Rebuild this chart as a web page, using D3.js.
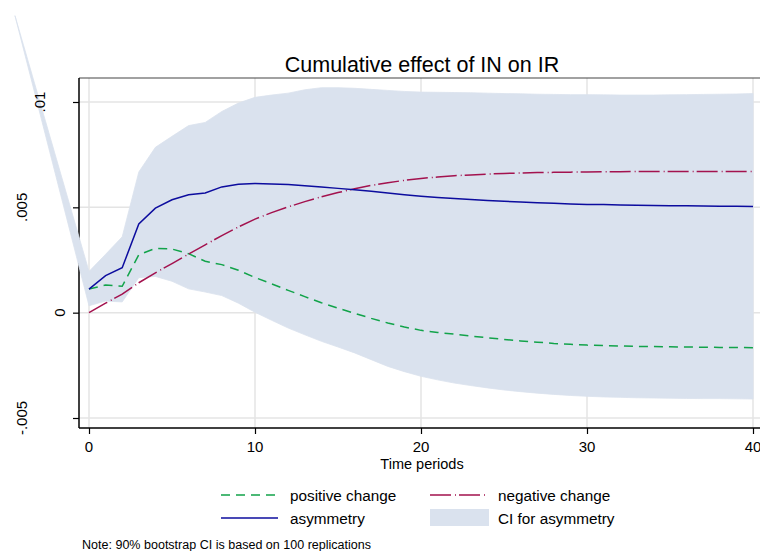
<!DOCTYPE html>
<html>
<head>
<meta charset="utf-8">
<script src="https://cdnjs.cloudflare.com/ajax/libs/d3/7.8.5/d3.min.js"></script>
<style>
  html, body { margin: 0; padding: 0; background: #fff; }
  svg { display: block; font-family: "Liberation Sans", Arial, sans-serif; }
</style>
</head>
<body>
<svg id="chart" width="760" height="551"></svg>
<script>
// ---------------- data ----------------
const periods = [0,1,2,3,4,5,6,7,8,9,10,11,12,13,14,15,16,17,18,19,20,
                 21,22,23,24,25,26,27,28,29,30,31,32,33,34,35,36,37,38,39,40];
const positiveChange = [0.00112,0.00131,0.00125,0.00275,0.00305,0.00302,0.00280,0.00244,0.00228,0.00201,0.00167,
  0.00137,0.00106,0.00076,0.00047,0.00021,-0.00003,-0.00027,-0.00049,-0.00068,-0.00084,
  -0.00094,-0.00102,-0.00111,-0.00119,-0.00127,-0.00134,-0.00140,-0.00146,-0.00150,-0.00154,
  -0.00156,-0.00158,-0.00160,-0.00161,-0.00162,-0.00163,-0.00164,-0.00165,-0.00165,-0.00166];
const negativeChange = [0,0.00045,0.00088,0.00142,0.00189,0.00233,0.00278,0.00322,0.00366,0.00407,0.00444,
  0.00475,0.00502,0.00527,0.00550,0.00570,0.00588,0.00604,0.00617,0.00628,0.00637,
  0.00644,0.00650,0.00654,0.00658,0.00661,0.00663,0.00665,0.00666,0.00667,0.00668,
  0.00669,0.00669,0.00670,0.00670,0.00670,0.00670,0.00670,0.00670,0.00670,0.00670];
const asymmetry = [0.00112,0.00176,0.00213,0.00421,0.00496,0.00536,0.00560,0.00568,0.00597,0.00610,0.00613,
  0.00611,0.00608,0.00603,0.00597,0.00590,0.00583,0.00576,0.00568,0.00560,0.00553,
  0.00547,0.00542,0.00537,0.00533,0.00529,0.00525,0.00522,0.00519,0.00516,0.00514,
  0.00513,0.00511,0.00510,0.00509,0.00508,0.00507,0.00506,0.00505,0.00505,0.00504];
const ciLower = [0.00033,0.00055,0.00051,0.00166,0.00172,0.00149,0.00113,0.00098,0.00081,0.00045,0.00002,
  -0.00036,-0.00073,-0.00105,-0.00136,-0.00163,-0.00191,-0.00223,-0.00255,-0.00280,-0.00302,
  -0.00319,-0.00334,-0.00346,-0.00357,-0.00367,-0.00375,-0.00382,-0.00388,-0.00393,-0.00397,
  -0.00400,-0.00402,-0.00404,-0.00405,-0.00406,-0.00407,-0.00408,-0.00408,-0.00409,-0.00410];
const ciUpper = [0.00196,0.00277,0.00360,0.00668,0.00785,0.00837,0.00888,0.00903,0.00955,0.00995,0.01022,
  0.01033,0.01042,0.01058,0.01068,0.01068,0.01065,0.01060,0.01055,0.01050,0.01047,
  0.01046,0.01045,0.01044,0.01042,0.01040,0.01039,0.01037,0.01036,0.01035,0.01035,
  0.01034,0.01033,0.01033,0.01033,0.01034,0.01035,0.01036,0.01037,0.01038,0.01040];
// stray leading CI point (drawn outside the plot region in the original)
const ciLeadPeriod = [-4.46];
const ciLeadValue = [0.0141];

const xTicks = [0, 10, 20, 30, 40];
const yTicks = [-0.005, 0, 0.005, 0.01];
const yTickLabels = ["-.005", "0", ".005", ".01"];

const titleText = "Cumulative effect of IN on IR";
const xTitle = "Time periods";
const legendLabels = ["positive change", "negative change", "asymmetry", "CI for asymmetry"];
const noteText = "Note: 90% bootstrap CI is based on 100 replications";

// ---------------- layout ----------------
const svg = d3.select("#chart");
const plotLeft = 79, plotRight = 766, plotTop = 78, plotBottom = 428;
const x = d3.scaleLinear().domain([0, 40]).range([89, 753]);
const y = d3.scaleLinear().domain([-0.005, 0.01]).range([418, 102]);

const colors = { pos: "#12a34a", neg: "#a3124e", asym: "#0c0c9e", ci: "#dae2ee", grid: "#e4e4e4" };
const dashPos = "9,6";
const dashNeg = "21,4,1,3";

// grid
const grid = svg.append("g");
grid.selectAll("line.v").data(xTicks).join("line")
  .attr("x1", d => x(d)).attr("x2", d => x(d))
  .attr("y1", plotTop).attr("y2", plotBottom)
  .attr("stroke", colors.grid).attr("stroke-width", 1.5);
grid.selectAll("line.h").data(yTicks).join("line")
  .attr("x1", plotLeft).attr("x2", plotRight)
  .attr("y1", d => y(d)).attr("y2", d => y(d))
  .attr("stroke", colors.grid).attr("stroke-width", 1.5);

// top border
svg.append("line").attr("x1", plotLeft).attr("x2", plotRight)
  .attr("y1", plotTop).attr("y2", plotTop)
  .attr("stroke", "#444").attr("stroke-width", 1.2);

// axes (lines and ticks only)
const yAxis = d3.axisLeft(y).tickValues(yTicks).tickSize(6).tickFormat("");
const gy = svg.append("g").attr("transform", `translate(${plotLeft},0)`).call(yAxis);
gy.select(".domain").attr("d", `M0,${plotTop}V${plotBottom}`).attr("stroke", "#000").attr("stroke-width", 1.5);
gy.selectAll(".tick line").attr("stroke", "#000").attr("stroke-width", 1.2);

const xAxis = d3.axisBottom(x).tickValues(xTicks).tickSize(6).tickFormat("");
const gx = svg.append("g").attr("transform", `translate(0,${plotBottom})`).call(xAxis);
gx.select(".domain").attr("d", `M${plotLeft},0H${plotRight}`).attr("stroke", "#000").attr("stroke-width", 1.5);
gx.selectAll(".tick line").attr("stroke", "#000").attr("stroke-width", 1.2);

// CI band
const ciData = ciLeadPeriod.map((p, i) => ({ t: p, lo: ciLeadValue[i], hi: ciLeadValue[i] }))
  .concat(periods.map((t, i) => ({ t, lo: ciLower[i], hi: ciUpper[i] })));
svg.append("path").datum(ciData)
  .attr("d", d3.area().x(d => x(d.t)).y0(d => y(d.lo)).y1(d => y(d.hi)))
  .attr("fill", colors.ci).attr("stroke", colors.ci).attr("stroke-width", 0.8);

// lines
const line = d3.line().x(d => x(d[0])).y(d => y(d[1]));
function series(vals) { return periods.map((t, i) => [t, vals[i]]); }
svg.append("path").datum(series(positiveChange)).attr("d", line)
  .attr("fill", "none").attr("stroke", colors.pos).attr("stroke-width", 1.5).attr("stroke-dasharray", dashPos);
svg.append("path").datum(series(negativeChange)).attr("d", line)
  .attr("fill", "none").attr("stroke", colors.neg).attr("stroke-width", 1.5).attr("stroke-dasharray", dashNeg);
svg.append("path").datum(series(asymmetry)).attr("d", line)
  .attr("fill", "none").attr("stroke", colors.asym).attr("stroke-width", 1.5);

// tick labels
const yLabelX = { "-.005": 22, "0": 60, ".005": 22, ".01": 40 };
svg.append("g").selectAll("text").data(yTicks).join("text")
  .attr("transform", (d, i) => `translate(${yLabelX[yTickLabels[i]]},${y(d)}) rotate(-90)`)
  .attr("text-anchor", "middle").attr("dy", "0.36em")
  .attr("font-size", 15).attr("fill", "#000")
  .text((d, i) => yTickLabels[i]);

svg.append("g").selectAll("text").data(xTicks).join("text")
  .attr("x", d => x(d)).attr("y", 452)
  .attr("text-anchor", "middle").attr("font-size", 15).attr("fill", "#000")
  .text(d => d);

// titles
svg.append("text").attr("x", 422).attr("y", 72).attr("text-anchor", "middle")
  .attr("font-size", 21.5).attr("fill", "#000").text(titleText);
svg.append("text").attr("x", 422).attr("y", 469).attr("text-anchor", "middle")
  .attr("font-size", 14.5).attr("fill", "#000").text(xTitle);

// legend
const lg = svg.append("g");
const rows = [495, 518];
const col = [{ sx: 221, tx: 290 }, { sx: 430, tx: 498 }];
function legendLine(c, r, color, dash) {
  lg.append("line").attr("x1", c.sx).attr("x2", c.sx + 57).attr("y1", r).attr("y2", r)
    .attr("stroke", color).attr("stroke-width", 1.5).attr("stroke-dasharray", dash || null);
}
legendLine(col[0], rows[0], colors.pos, dashPos);
legendLine(col[1], rows[0], colors.neg, dashNeg);
legendLine(col[0], rows[1], colors.asym, null);
lg.append("rect").attr("x", col[1].sx).attr("y", rows[1] - 9).attr("width", 59).attr("height", 17)
  .attr("fill", colors.ci);
[[0,0],[1,0],[0,1],[1,1]].forEach(([c, r], i) => {
  lg.append("text").attr("x", col[c].tx).attr("y", rows[r] + 5.5)
    .attr("font-size", 15.3).attr("fill", "#000").text(legendLabels[i]);
});

// note
svg.append("text").attr("x", 82).attr("y", 549).attr("font-size", 12.5)
  .attr("textLength", 289).attr("lengthAdjust", "spacingAndGlyphs")
  .attr("fill", "#000").text(noteText);
</script>
</body>
</html>
